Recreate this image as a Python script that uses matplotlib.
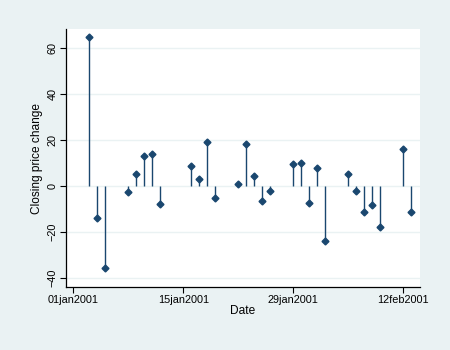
import datetime as dt
import matplotlib
matplotlib.use("Agg")
import matplotlib.pyplot as plt
import matplotlib.dates as mdates
from matplotlib.ticker import FuncFormatter

# daily closing price changes, trading days only
dates = ["2001-01-03", "2001-01-04", "2001-01-05", "2001-01-08", "2001-01-09",
         "2001-01-10", "2001-01-11", "2001-01-12", "2001-01-16", "2001-01-17",
         "2001-01-18", "2001-01-19", "2001-01-22", "2001-01-23", "2001-01-24",
         "2001-01-25", "2001-01-26", "2001-01-29", "2001-01-30", "2001-01-31",
         "2001-02-01", "2001-02-02", "2001-02-05", "2001-02-06", "2001-02-07",
         "2001-02-08", "2001-02-09", "2001-02-12", "2001-02-13"]
change = [64.8, -14.0, -35.5, -2.4, 5.0,
          12.9, 13.7, -8.0, 8.5, 2.9,
          18.9, -5.4, 0.8, 18.1, 4.2,
          -6.6, -2.3, 9.5, 9.9, -7.4,
          7.7, -24.0, 5.1, -2.1, -11.4,
          -8.4, -17.9, 15.9, -11.4]
xtick_dates = ["2001-01-01", "2001-01-15", "2001-01-29", "2001-02-12"]
yticks = [-40, -20, 0, 20, 40, 60]

bg = "#eaf2f3"
navy = "#1a476f"
plt.rcParams['font.family'] = ['Liberation Sans', 'DejaVu Sans']

d = [dt.datetime.strptime(s, "%Y-%m-%d") for s in dates]
xt = [dt.datetime.strptime(s, "%Y-%m-%d") for s in xtick_dates]

fig = plt.figure(figsize=(4.5, 3.5), dpi=100, facecolor=bg)
ax = fig.add_axes([0.146, 0.181, 0.787, 0.735])
ax.set_facecolor("white")

for y in yticks:
    ax.axhline(y, color=bg, lw=1.0, zorder=0)

ax.vlines(d, 0, change, color=navy, lw=1.0, zorder=2)
ax.plot(d, change, "D", color=navy, markersize=3.5, zorder=3)

ax.set_xlim(dt.datetime(2001, 1, 1) - dt.timedelta(days=0.97),
            dt.datetime(2001, 1, 1) + dt.timedelta(days=44.1))
ax.set_ylim(-43.7, 68)

ax.set_xticks(xt)
ax.xaxis.set_major_formatter(FuncFormatter(
    lambda v, pos: mdates.num2date(v).strftime("%d%b%Y").lower()))
ax.set_yticks(yticks)
for lab in ax.get_yticklabels():
    lab.set_rotation(90)
    lab.set_va("center")

ax.tick_params(axis="both", length=4, width=0.8, color="black",
               labelsize=7.8, pad=2)
for side in ["top", "right"]:
    ax.spines[side].set_visible(False)
for side in ["left", "bottom"]:
    ax.spines[side].set_linewidth(0.9)

ax.set_xlabel("Date", fontsize=8.6, labelpad=0)
ax.set_ylabel("Closing price change", fontsize=8.6, labelpad=3)

fig.savefig("out.png", dpi=100, facecolor=bg)
